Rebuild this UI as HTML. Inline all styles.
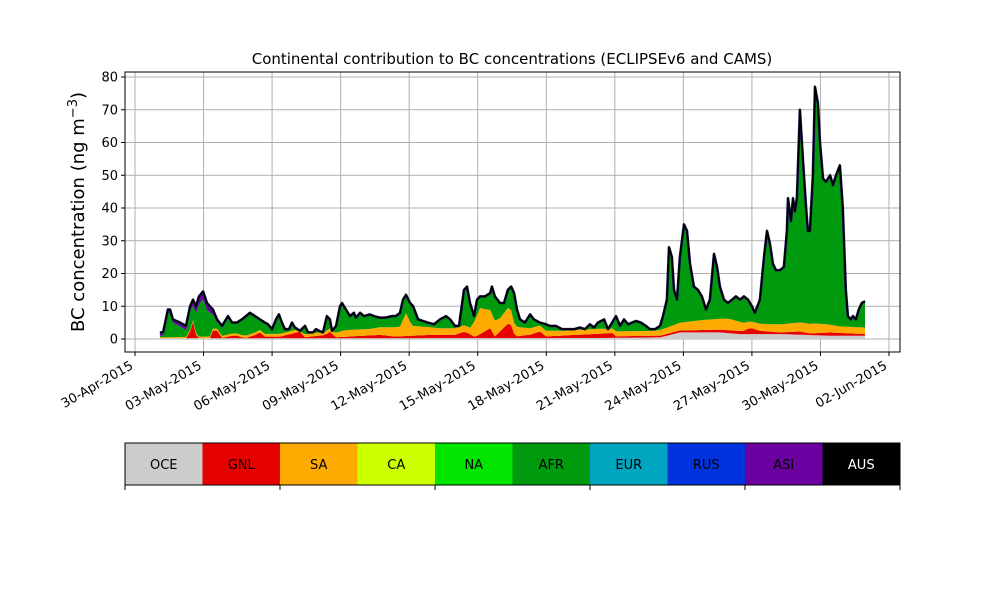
<!DOCTYPE html>
<html><head><meta charset="utf-8"><style>
body{margin:0;background:#fff}
svg text{font-family:"DejaVu Sans","Liberation Sans",sans-serif}
</style></head><body>
<svg id="c" width="1000" height="600" xmlns="http://www.w3.org/2000/svg"></svg>
<script>
const dates=["30-Apr-2015","03-May-2015","06-May-2015","09-May-2015","12-May-2015","15-May-2015","18-May-2015","21-May-2015","24-May-2015","27-May-2015","30-May-2015","02-Jun-2015"];
const yTicks=[0,10,20,30,40,50,60,70,80];
const regions=["OCE","GNL","SA","CA","NA","AFR","EUR","RUS","ASI","AUS"];
const regionColors=["#cccccc","#e60000","#ffaa00","#ccff00","#00e600","#009a0e","#00a5bf","#0033dd","#6a00a0","#000000"];
// total: time in days since 30-Apr-2015
const totT=[1.09,1.23,1.44,1.53,1.66,1.97,2.23,2.41,2.54,2.67,2.80,2.98,3.15,3.28,3.41,3.59,3.81,4.07,4.25,4.46,4.68,4.86,5.03,5.25,5.47,5.69,5.82,6.00,6.17,6.30,6.43,6.56,6.74,6.87,7.00,7.22,7.44,7.57,7.79,7.92,8.05,8.23,8.40,8.53,8.62,8.80,8.97,9.06,9.23,9.41,9.58,9.67,9.85,10.02,10.28,10.46,10.72,10.94,11.25,11.42,11.60,11.73,11.86,12.04,12.17,12.39,12.60,12.82,13.09,13.35,13.61,13.79,14.00,14.18,14.40,14.53,14.66,14.84,14.97,15.10,15.32,15.54,15.62,15.75,15.97,16.15,16.32,16.46,16.59,16.72,16.85,17.07,17.29,17.46,17.72,17.99,18.16,18.42,18.69,18.95,19.21,19.47,19.69,19.91,20.09,20.26,20.53,20.70,20.88,21.05,21.23,21.40,21.58,21.75,21.93,22.14,22.36,22.54,22.76,22.98,23.11,23.28,23.37,23.50,23.59,23.72,23.85,24.03,24.16,24.29,24.46,24.64,24.81,24.99,25.16,25.34,25.47,25.60,25.78,25.95,26.13,26.30,26.48,26.65,26.83,27.00,27.13,27.35,27.53,27.66,27.79,27.92,28.05,28.23,28.40,28.53,28.58,28.71,28.80,28.88,28.97,29.10,29.23,29.37,29.45,29.54,29.67,29.76,29.89,29.98,30.11,30.24,30.42,30.55,30.68,30.85,30.98,31.11,31.20,31.33,31.42,31.55,31.68,31.81,31.95];
const totV=[2,2,9,9,6,5,4,10,12,10,13,14.5,11,10,9,6,4,7,5,5,6,7,8,7,6,5,4.5,3,6,7.5,5,3,3,5,3.5,2.5,4,2,2,3,2.5,2,7,6,2.5,4,10,11,9,7,8,6.5,8,7,7.5,7,6.5,6.5,7,7,8,12,13.5,11,10,6,5.5,5,4.5,6,7,6,4,4,15,16,11,7,12,13,13,14,16,13,11,11,15,16,14,9,6,5,7.5,6,5,4.5,4,4,3,3,3,3.5,3,4.5,3.5,5,6,3,5,7,4,6,4.5,5,5.5,5,4,3,3,4,7,12,28,25,15,12,25,35,33,23,16,15,13,9,12,26,22,16,12,11,12,13,12,13,12,10,8,12,25,33,29,23,21,21,22,33,43,36,43,39,43,70,55,40,33,33,50,77,72,60,49,48,50,47,50,53,40,15,7,6,7,6,9,11,11.5];
const gnlT=[1.09,2.32,2.54,2.71,3.28,3.50,3.72,4.38,4.81,5.25,5.38,5.56,6.35,7.22,7.44,8.32,8.53,8.75,10.72,11.38,12.91,14.00,14.44,14.88,15.54,15.75,16.41,16.63,17.29,17.72,17.94,19.47,20.88,21.05,22.98,26.70,26.91,27.35,28.23,29.10,29.54,30.42,31.95];
const gnlV=[0,0,5,0,0,4,0,1,0,1,3,0.5,0.5,2,0.3,1,2,0.3,1,0.5,1,1,2,0.3,3,0.5,5,0.5,1,2,0.5,1,1.5,0.5,0.5,1,2,1,0.5,1,0.5,1,0.5];
const saT=[1.09,2.84,5.47,8.53,9.19,10.28,11.60,11.86,12.12,13.35,14.66,15.10,15.45,15.97,16.41,16.63,17.29,18.60,22.54,23.41,24.73,26.04,26.91,29.76,30.85,31.95];
const saV=[0.3,0.5,0.8,1,2,2,3,7,3,2,2,8,6,4,5,3,2,1.5,1.5,2,3,3.5,2,3,2,2];
const oceT=[1.09,20.35,22.98,23.85,25.60,26.48,28.23,30.42,31.95];
const oceV=[0.2,0.3,0.5,2,2,1.5,1.5,1,1];
const asiT=[1.09,1.75,2.41,2.84,3.28,3.72,4.60,31.95];
const asiV=[1,1,1.5,2.5,2,0.5,0.2,0.2];

const NS="http://www.w3.org/2000/svg";
const svg=document.getElementById('c');
const L=125,R=900,T=72,B=352;
const X=d=>135+d*(754/33);
const Y=v=>339-v*(262/80);
function el(tag,attrs,parent){const e=document.createElementNS(NS,tag);for(const k in attrs)e.setAttribute(k,attrs[k]);(parent||svg).appendChild(e);return e;}
function interp(ts,vs,t){if(t<=ts[0])return vs[0];for(let i=1;i<ts.length;i++){if(t<=ts[i]){const f=(t-ts[i-1])/(ts[i]-ts[i-1]);return vs[i-1]+f*(vs[i]-vs[i-1]);}}return vs[vs.length-1];}

yTicks.forEach(v=>{const g=el('line',{x1:L,x2:R,y1:Y(v),y2:Y(v),stroke:'#b0b0b0','stroke-width':1});
});
dates.forEach((d,i)=>{const g=el('line',{x1:X(i*3),x2:X(i*3),y1:T,y2:B,stroke:'#b0b0b0','stroke-width':1});
});

const layers=[];
totT.forEach((t,i)=>{
  const tot=totV[i];
  let oce=Math.min(interp(oceT,oceV,t),tot);
  let gnl=Math.min(interp(gnlT,gnlV,t),tot-oce);
  let asi=Math.min(interp(asiT,asiV,t),tot-oce-gnl);
  let sa=Math.min(interp(saT,saV,t),tot-oce-gnl-asi);
  let afr=Math.max(0,tot-oce-gnl-sa-asi);
  layers.push([oce,gnl,sa,0,0,afr,0,0,asi,0]);
});
const cum=layers.map(()=>0);
regions.forEach((r,k)=>{
  const lo=cum.slice();
  layers.forEach((l,i)=>cum[i]+=l[k]);
  if(layers.every(l=>l[k]===0))return;
  let d='';
  totT.forEach((t,i)=>{d+=(i?'L':'M')+X(t).toFixed(1)+','+Y(cum[i]).toFixed(1);});
  for(let i=totT.length-1;i>=0;i--)d+='L'+X(totT[i]).toFixed(1)+','+Y(lo[i]).toFixed(1);
  const p=el('path',{d:d+'Z',fill:regionColors[k],stroke:'none'});
  
  
});
let ld='';totT.forEach((t,i)=>{ld+=(i?'L':'M')+X(t).toFixed(1)+','+Y(totV[i]).toFixed(1);});
const l1=el('path',{d:ld,fill:'none',stroke:'#1a1a60','stroke-width':2.6,'stroke-linejoin':'round'});

const l2=el('path',{d:ld,fill:'none',stroke:'#000','stroke-width':1.7,'stroke-linejoin':'round'});


const fr=el('rect',{x:L,y:T,width:R-L,height:B-T,fill:'none',stroke:'#000','stroke-width':1});

yTicks.forEach(v=>{
  const tk=el('line',{x1:L-4,x2:L,y1:Y(v),y2:Y(v),stroke:'#000'});
  
  const tx=el('text',{x:L-7,y:Y(v)+4.5,'text-anchor':'end','font-size':13});tx.textContent=v;
  
});
dates.forEach((d,i)=>{
  const x=X(i*3);
  const tk=el('line',{x1:x,x2:x,y1:B,y2:B+4,stroke:'#000'});
  
  const tx=el('text',{x:x-1,y:B+16,'text-anchor':'end','font-size':13,transform:`rotate(-30 ${x-1} ${B+16})`});tx.textContent=d;
  
});
const title=el('text',{x:512,y:64,'text-anchor':'middle','font-size':15});
title.textContent='Continental contribution to BC concentrations (ECLIPSEv6 and CAMS)';

const yl=el('text',{x:0,y:0,'text-anchor':'middle','font-size':18,transform:'translate(84,212) rotate(-90)'});
yl.innerHTML='BC concentration (ng m<tspan dy="-7" font-size="13">−3</tspan><tspan dy="7">)</tspan>';


const cw=(R-L)/regions.length;
regions.forEach((r,k)=>{
  const rc=el('rect',{x:L+k*cw,y:443,width:cw,height:42,fill:regionColors[k]});
  
  const tx=el('text',{x:L+k*cw+cw/2,y:469,'text-anchor':'middle','font-size':13,fill:r==='AUS'?'#fff':'#000'});tx.textContent=r;
  
});
const cb=el('rect',{x:L,y:443,width:R-L,height:42,fill:'none',stroke:'#000','stroke-width':1});

for(let k=0;k<=regions.length;k+=2){
  const tk=el('line',{x1:L+k*cw,x2:L+k*cw,y1:485,y2:490,stroke:'#000'});
  
}
</script>
</body></html>
